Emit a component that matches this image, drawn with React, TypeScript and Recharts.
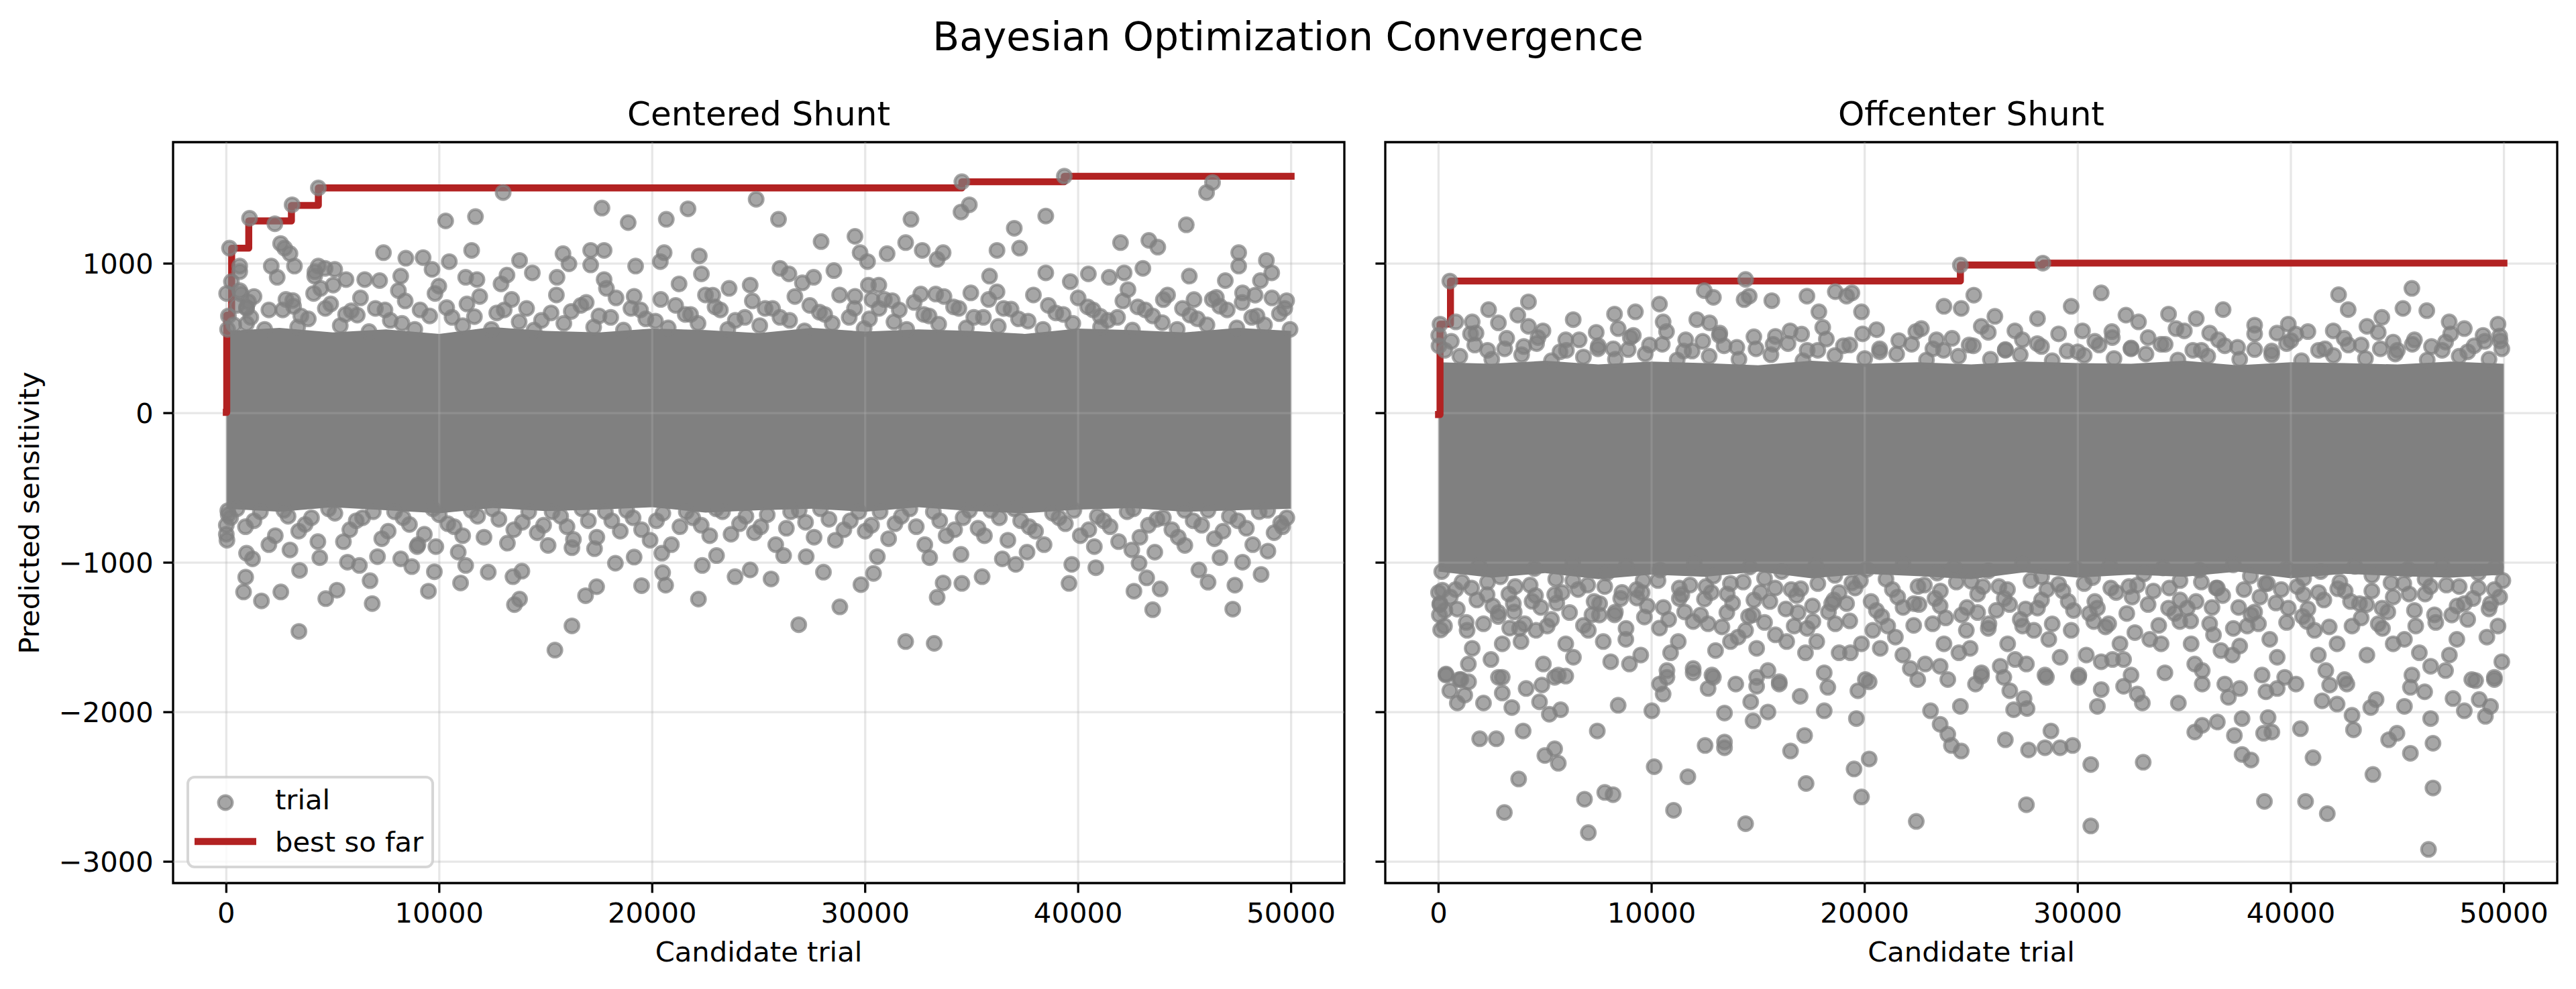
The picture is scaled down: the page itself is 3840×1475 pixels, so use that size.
import React from 'react';
import {
  ComposedChart,
  XAxis,
  YAxis,
  Scatter,
  Line,
  Area,
  ReferenceLine,
  ReferenceArea,
  Legend,
} from 'recharts';

const FONT = '"DejaVu Sans", sans-serif';
const GRAY = '#808080';
const RED = '#b22222';

const figureTitle = 'Bayesian Optimization Convergence';
const panelTitles = ['Centered Shunt', 'Offcenter Shunt'];
const xLabel = 'Candidate trial';
const yLabel = 'Predicted sensitivity';
const legendLabels = ['trial', 'best so far'];

const xTicks = [0, 10000, 20000, 30000, 40000, 50000];
const yTicks = [-3000, -2000, -1000, 0, 1000];
const xDomain: [number, number] = [-2500, 52500];
const yDomain: [number, number] = [-3143, 1812];

// dense core of the cloud, read as an envelope every 2500 trials
const bandTrials = [0, 2500, 5000, 7500, 10000, 12500, 15000, 17500, 20000, 22500, 25000, 27500, 30000, 32500, 35000, 37500, 40000, 42500, 45000, 47500, 50000];
const centeredBandLow = [-640, -660, -630, -650, -670, -635, -655, -645, -630, -665, -650, -640, -660, -630, -655, -670, -645, -635, -660, -650, -640];
const centeredBandHigh = [550, 570, 540, 560, 530, 575, 550, 540, 565, 555, 535, 570, 545, 560, 550, 530, 565, 555, 540, 570, 550];
const offcenterBandLow = [-1060, -1100, -1070, -1110, -1080, -1095, -1060, -1105, -1075, -1090, -1110, -1065, -1100, -1080, -1095, -1060, -1105, -1075, -1090, -1100, -1080];
const offcenterBandHigh = [340, 330, 350, 325, 345, 335, 320, 350, 330, 340, 325, 345, 335, 330, 350, 320, 340, 335, 325, 345, 330];

// best so far (step after each improvement)
const centeredBestTrial = [0, 20, 250, 1054, 3057, 4322, 34540, 39350, 49999];
const centeredBestValue = [5, 655, 1103, 1285, 1389, 1506, 1547, 1584, 1584];
const offcenterBestTrial = [0, 70, 560, 24490, 28360, 49999];
const offcenterBestValue = [-10, 595, 883, 990, 1003, 1003];

// individually visible trials: [trial, sensitivity]
const centeredHigh: [number, number][] = [
  [4322, 1506], [13000, 1475], [24880, 1430], [34540, 1547], [34890, 1393], [34500, 1345], [39350, 1584], [46310, 1542],
  [46030, 1475], [17640, 1371], [18870, 1274], [20660, 1296], [21680, 1366], [10300, 1285], [11700, 1314], [25930, 1296],
  [32150, 1296], [38480, 1318], [37000, 1236], [45080, 1259], [27930, 1147], [29520, 1182], [31900, 1140], [32680, 1088],
  [33660, 1073], [33380, 1028], [31030, 1066], [29760, 1073], [30110, 1013], [36190, 1088], [37250, 1103], [41990, 1140],
  [43320, 1155], [43740, 1110], [47540, 1073], [48840, 1021], [49090, 938], [47540, 983], [7380, 1073], [8430, 1036],
  [9240, 1040], [11520, 1088], [13770, 1021], [15810, 1066], [17110, 1088], [17740, 1088], [16090, 998], [20560, 1073],
  [20380, 1013], [22210, 1051], [19220, 983], [17110, 991], [10470, 1013], [9660, 961], [2740, 1103], [2990, 1066],
  [2110, 983], [1090, 1303], [2280, 1266], [3090, 1393], [630, 946], [4640, 968], [5090, 961], [4150, 916],
  [2390, 908], [26000, 968], [26420, 931], [27580, 908], [28530, 953], [27050, 871], [35840, 916], [38480, 938],
  [40480, 931], [41460, 908], [42160, 938], [43040, 968], [45220, 916], [46910, 886], [48560, 886], [39630, 879],
  [13180, 923], [14370, 938], [15530, 908], [11240, 908], [11770, 893], [12900, 864], [8190, 916], [6500, 893],
  [7200, 886], [5620, 893], [4430, 834], [5020, 856], [8080, 819], [9980, 849], [17740, 893], [17850, 834],
  [19150, 781], [21260, 864], [22310, 931], [23610, 834], [24600, 856], [22840, 789], [30150, 856], [30640, 856],
  [32610, 796], [33310, 796], [34960, 804], [36190, 811], [42340, 826], [44000, 759], [45440, 759], [46490, 774],
  [47720, 804], [48310, 789], [49790, 752], [3160, 714], [950, 707], [5870, 684], [700, 796], [29520, 781],
  [30320, 759], [31270, 752], [41040, 647], [150, 1103], [630, 983], [240, 879], [630, 819], [1040, 744],
  [950, 700], [100, 650], [950, 598], [3120, 753], [2550, 1134], [3200, 983], [4320, 983], [4160, 945],
  [60, 560], [15, 800],
];

const centeredHighFringe: [number, number][] = [
  [350, 590], [1150, 640], [1800, 560], [2650, 690], [3350, 575], [3850, 630], [4650, 700], [5350, 585],
  [6150, 655], [6700, 545], [7450, 690], [8250, 600], [8850, 560], [9550, 650], [10350, 705], [11100, 585],
  [11650, 645], [12450, 560], [13050, 690], [13750, 610], [14450, 555], [15250, 670], [15850, 600], [16650, 720],
  [17250, 575], [18050, 640], [18650, 555], [19450, 690], [20150, 615], [20750, 570], [21550, 660], [22150, 600],
  [22950, 710], [23550, 560], [24350, 640], [25050, 585], [25650, 700], [26450, 620], [27150, 550], [27850, 675],
  [28450, 600], [29250, 640], [29950, 565], [30650, 700], [31350, 610], [31950, 560], [32750, 660], [33450, 595],
  [34150, 710], [34750, 570], [35550, 640], [36250, 580], [36850, 695], [37650, 615], [38350, 560], [38950, 670],
  [39750, 600], [40450, 710], [41050, 575], [41850, 640], [42550, 555], [43150, 690], [43950, 605], [44650, 560],
  [45250, 655], [46050, 590], [46650, 715], [47450, 570], [48150, 640], [48750, 590], [49450, 665], [49950, 560],
  [500, 720], [1300, 780], [2000, 690], [2800, 760], [3500, 650], [4100, 800], [4900, 730], [5600, 660],
  [6300, 770], [7000, 700], [7700, 620], [8400, 750], [9100, 690], [9800, 800], [10600, 640], [11300, 730],
  [11900, 780], [12700, 670], [13400, 760], [14100, 700], [14800, 620], [15500, 790], [16200, 680], [16900, 740],
  [17500, 650], [18300, 770], [19000, 700], [19700, 630], [20400, 760], [21100, 720], [21800, 660], [22500, 790],
  [23200, 690], [23900, 620], [24700, 750], [25300, 700], [26000, 640], [26700, 780], [27400, 720], [28100, 660],
  [28800, 790], [29500, 700], [30200, 630], [30900, 760], [31600, 690], [32300, 740], [33000, 650], [33700, 780],
  [34400, 700], [35100, 640], [35800, 760], [36500, 700], [37200, 630], [37900, 790], [38600, 720], [39300, 660],
  [40000, 770], [40700, 690], [41400, 620], [42100, 750], [42800, 710], [43500, 650], [44200, 790], [44900, 700],
  [45600, 630], [46300, 760], [47000, 690], [47700, 740], [48400, 650], [49100, 770], [49700, 700],
];

const centeredLow: [number, number][] = [
  [3410, -1460], [15430, -1585], [16230, -1423], [26880, -1415], [28810, -1296], [31900, -1528], [33240, -1540], [43500, -1315],
  [47260, -1311], [33380, -1232], [22170, -1244], [13530, -1281], [13770, -1244], [16870, -1221], [17390, -1161], [6850, -1274],
  [4670, -1241], [5200, -1184], [2560, -1196], [1650, -1256], [810, -1196], [910, -1097], [3440, -1052], [6750, -1121],
  [9490, -1191], [11000, -1136], [9770, -1061], [13460, -1094], [13880, -1057], [19500, -1154], [20630, -1151], [20490, -1067],
  [25580, -1109], [29800, -1147], [30390, -1072], [33660, -1136], [34540, -1139], [35490, -1094], [39570, -1139], [42620, -1191],
  [43850, -1176], [46100, -1131], [47360, -1151], [48590, -1079], [43220, -1102], [45670, -1049], [37070, -1012], [36440, -975],
  [37600, -930], [28040, -1064], [23890, -1094], [24600, -1049], [22350, -1019], [18270, -1004], [19150, -963], [12300, -1064],
  [11240, -1019], [8710, -1027], [8190, -975], [6250, -1019], [5690, -997], [4390, -967], [1230, -975], [950, -937],
  [39700, -1012], [40830, -1034], [42860, -1004], [47720, -997], [46660, -967], [48910, -923], [33030, -967], [34500, -945],
  [30570, -960], [27230, -960], [26170, -953], [23020, -953], [20450, -937], [17290, -907], [16230, -900], [15110, -885],
  [10890, -930], [7100, -960], [9840, -893], [8960, -893], [2990, -915], [0, -810], [70, -653], [40760, -893],
  [42520, -915], [45010, -885], [43600, -930], [49510, -735], [0, -750], [30, -850], [90, -680],
];

const centeredLowFringe: [number, number][] = [
  [200, -700], [900, -760], [1600, -660], [2300, -820], [2900, -690], [3700, -745], [4300, -860], [5100, -670],
  [5800, -780], [6400, -700], [7300, -840], [7900, -660], [8600, -745], [9300, -810], [10000, -680], [10700, -760],
  [11500, -650], [12100, -830], [12800, -710], [13500, -780], [14200, -660], [14900, -750], [15700, -690], [16300, -845],
  [17000, -720], [17800, -660], [18500, -790], [19100, -700], [19900, -850], [20500, -670], [21300, -760], [21900, -700],
  [22700, -820], [23300, -660], [24100, -740], [24800, -800], [25400, -680], [26300, -770], [26900, -650], [27600, -830],
  [28300, -710], [29000, -780], [29700, -660], [30300, -750], [31100, -840], [31700, -690], [32400, -760], [33200, -660],
  [33800, -820], [34600, -700], [35300, -770], [35900, -650], [36700, -850], [37300, -720], [38000, -790], [38800, -670],
  [39400, -740], [40100, -820], [40900, -690], [41500, -760], [42300, -660], [42900, -830], [43700, -710], [44400, -780],
  [45000, -650], [45800, -750], [46400, -840], [47100, -690], [47900, -770], [48500, -660], [49200, -800], [49800, -700],
  [500, -640], [1300, -720], [2000, -880], [2700, -650], [3400, -790], [4000, -700], [4800, -640], [5500, -860],
  [6100, -720], [6900, -660], [7600, -790], [8300, -700], [9000, -880], [9700, -640], [10400, -740], [11100, -820],
  [11800, -690], [12500, -640], [13200, -870], [13900, -730], [14600, -800], [15300, -660], [16000, -760], [16700, -640],
  [17400, -830], [18100, -720], [18800, -650], [19500, -780], [20200, -720], [20900, -880], [21600, -660], [22300, -750],
  [23000, -640], [23700, -810], [24400, -690], [25100, -760], [25800, -880], [26500, -660], [27200, -730], [27900, -640],
  [28600, -850], [29300, -720], [30000, -790], [30700, -660], [31400, -740], [32100, -640], [32800, -880], [33500, -720],
  [34200, -780], [34900, -650], [35600, -820], [36300, -700], [37000, -640], [37700, -760], [38400, -880], [39100, -700],
  [39800, -650], [40500, -780], [41200, -720], [41900, -860], [42600, -640], [43300, -750], [44000, -700], [44700, -830],
  [45400, -720], [46100, -650], [46800, -790], [47500, -720], [48200, -880], [48900, -650], [49600, -760],
];

const offcenterHigh: [number, number][] = [
  [530, 883], [14410, 894], [28360, 1003], [24490, 990], [12470, 819], [12900, 774], [14580, 782], [14340, 759],
  [15640, 752], [17290, 782], [18620, 812], [19150, 782], [19400, 804], [25120, 789], [31100, 804], [42240, 792],
  [45680, 834], [4220, 744], [10370, 729], [23720, 714], [29690, 714], [42690, 692], [45260, 700], [2350, 692],
  [3720, 655], [8260, 662], [9240, 677], [17850, 677], [19850, 677], [24530, 700], [32260, 655], [34260, 662],
  [36820, 692], [46380, 685], [6320, 625], [12120, 625], [12720, 603], [26110, 647], [28110, 632], [35560, 632],
  [44270, 640], [49720, 595], [47430, 610], [38300, 588], [39880, 595], [41990, 550], [4220, 580], [2810, 603],
  [1580, 610], [810, 610], [8430, 565], [10540, 610], [18030, 573], [22660, 565], [25470, 580], [32850, 610],
  [34610, 565], [43570, 580], [48140, 565], [49020, 520], [40230, 528], [36190, 535], [30220, 550], [27050, 550],
  [23370, 490], [17040, 528], [15810, 513], [13180, 520], [11600, 490], [9140, 520], [5970, 490], [4670, 505],
  [1760, 535], [49820, 483], [47260, 475], [44800, 475], [39350, 535], [31620, 505], [7480, 430], [20560, 558],
  [70, 595], [20, 450], [10, 520],
];

const offcenterHighFringe: [number, number][] = [
  [300, 420], [1000, 380], [1700, 455], [2500, 360], [3100, 430], [3900, 390], [4600, 465], [5300, 350],
  [6000, 420], [6800, 375], [7500, 450], [8300, 360], [8900, 425], [9700, 395], [10500, 460], [11200, 355],
  [11900, 415], [12700, 380], [13400, 450], [14100, 360], [14900, 430], [15600, 390], [16400, 465], [17100, 350],
  [17800, 420], [18600, 385], [19300, 455], [20000, 365], [20700, 430], [21500, 395], [22200, 460], [22900, 355],
  [23700, 420], [24400, 380], [25100, 450], [25900, 360], [26600, 425], [27300, 390], [28100, 465], [28800, 350],
  [29500, 415], [30300, 385], [31000, 455], [31700, 365], [32500, 430], [33200, 395], [33900, 460], [34700, 355],
  [35400, 420], [36100, 380], [36900, 450], [37600, 360], [38300, 425], [39100, 390], [39800, 465], [40500, 350],
  [41300, 420], [42000, 385], [42700, 455], [43500, 365], [44200, 430], [44900, 395], [45700, 460], [46400, 355],
  [47100, 420], [47900, 380], [48600, 450], [49300, 360], [49900, 430],
  [600, 480], [1500, 530], [2300, 420], [3200, 500], [4000, 445], [4900, 550], [5700, 410], [6600, 490],
  [7400, 540], [8200, 430], [9000, 505], [9900, 455], [10700, 545], [11500, 415], [12400, 480], [13200, 535],
  [14000, 440], [14800, 510], [15700, 460], [16500, 550], [17300, 420], [18200, 495], [19000, 450], [19900, 530],
  [20700, 410], [21600, 485], [22400, 545], [23200, 430], [24100, 500], [24900, 455], [25800, 540], [26600, 420],
  [27400, 490], [28300, 445], [29100, 530], [30000, 410], [30800, 480], [31600, 545], [32500, 435], [33300, 505],
  [34100, 460], [35000, 550], [35800, 420], [36600, 490], [37500, 440], [38300, 530], [39100, 415], [40000, 485],
  [40800, 545], [41600, 430], [42500, 500], [43300, 455], [44100, 540], [45000, 420], [45800, 490], [46600, 445],
  [47500, 530], [48300, 410], [49100, 480], [49800, 515],
];

const offcenterLowEdge: [number, number][] = [
  [150, -1060], [1100, -1130], [1900, -1020], [2900, -1095], [3600, -1160], [4500, -1040], [5500, -1110], [6300, -1010],
  [7000, -1150], [7900, -1070], [8800, -1025], [9600, -1120], [10400, -1050], [11300, -1170], [12000, -1010], [12900, -1090],
  [13700, -1140], [14600, -1030], [15300, -1105], [16100, -1060], [17000, -1175], [17700, -1020], [18600, -1085], [19400, -1135],
  [20100, -1045], [21000, -1110], [21800, -1015], [22500, -1160], [23400, -1070], [24200, -1030], [25000, -1125], [25800, -1055],
  [26700, -1180], [27400, -1010], [28300, -1095], [29100, -1145], [29900, -1040], [30700, -1100], [31500, -1020], [32400, -1160],
  [33100, -1075], [34000, -1035], [34800, -1120], [35700, -1050], [36500, -1170], [37300, -1015], [38100, -1090], [38900, -1140],
  [39800, -1040], [40600, -1105], [41400, -1060], [42200, -1175], [43000, -1025], [43800, -1085], [44700, -1135], [45500, -1045],
  [46300, -1110], [47100, -1020], [47900, -1160], [48800, -1070], [49600, -1030], [49950, -1120],
  [0, -1200], [40, -1350], [100, -1450], [60, -1280],
];

const offcenterLowDense: [number, number][] = [
  [300, -1320], [800, -1180], [1300, -1400], [1800, -1250], [2300, -1130], [2800, -1360], [3300, -1210], [3800, -1440],
  [4300, -1150], [4800, -1300], [5300, -1380], [5800, -1200], [6300, -1120], [6800, -1420], [7300, -1260], [7800, -1160],
  [8300, -1330], [8800, -1440], [9300, -1180], [9800, -1290], [10300, -1120], [10800, -1380], [11300, -1240], [11800, -1150],
  [12300, -1350], [12800, -1200], [13300, -1430], [13800, -1270], [14300, -1130], [14800, -1250], [15300, -1400], [15800, -1170],
  [16300, -1310], [16800, -1220], [17300, -1440], [17800, -1140], [18300, -1330], [18800, -1200], [19300, -1390], [19800, -1120],
  [20300, -1260], [20800, -1360], [21300, -1180], [21800, -1300], [22300, -1420], [22800, -1150], [23300, -1240], [23800, -1370],
  [24300, -1130], [24800, -1300], [25300, -1210], [25800, -1440], [26300, -1160], [26800, -1280], [27300, -1380], [27800, -1120],
  [28300, -1250], [28800, -1410], [29300, -1190], [29800, -1320], [30300, -1140], [30800, -1260], [31300, -1430], [31800, -1200],
  [32300, -1340], [32800, -1150], [33300, -1280], [33800, -1420], [34300, -1170], [34800, -1250], [35300, -1390], [35800, -1130],
  [36300, -1300], [36800, -1220], [37300, -1440], [37800, -1180], [38300, -1330], [38800, -1140], [39300, -1270], [39800, -1400],
  [40300, -1160], [40800, -1310], [41300, -1200], [41800, -1430], [42300, -1130], [42800, -1260], [43300, -1370], [43800, -1190],
  [44300, -1440], [44800, -1230], [45300, -1140], [45800, -1320], [46300, -1210], [46800, -1400], [47300, -1150], [47800, -1290],
  [48300, -1380], [48800, -1170], [49300, -1310], [49800, -1230],
  [550, -1230], [1550, -1170], [2550, -1290], [3550, -1330], [4550, -1220], [5550, -1270], [6550, -1180], [7550, -1350],
  [8550, -1240], [9550, -1200], [10550, -1300], [11550, -1330], [12550, -1160], [13550, -1210], [14550, -1360], [15550, -1260],
  [16550, -1180], [17550, -1290], [18550, -1250], [19550, -1170], [20550, -1320], [21550, -1230], [22550, -1280], [23550, -1190],
  [24550, -1350], [25550, -1160], [26550, -1240], [27550, -1310], [28550, -1180], [29550, -1260], [30550, -1340], [31550, -1170],
  [32550, -1230], [33550, -1190], [34550, -1340], [35550, -1260], [36550, -1170], [37550, -1300], [38550, -1230], [39550, -1180],
  [40550, -1360], [41550, -1250], [42550, -1190], [43550, -1280], [44550, -1330], [45550, -1210], [46550, -1160], [47550, -1350],
  [48550, -1240], [49550, -1180],
];

const offcenterLowMid: [number, number][] = [
  [180, -1184], [70, -1274], [280, -1424], [880, -1311], [1340, -1453], [1580, -1573], [1400, -1678], [350, -1745], [1050, -1782],
  [2110, -1409], [2810, -1334], [2460, -1648], [2990, -1543], [2810, -1767], [2280, -1214], [3340, -1438],
  [4040, -1409], [3870, -1528], [4570, -1453], [4920, -1678], [4390, -1259], [3510, -1274],
  [5100, -1424], [5970, -1543], [6330, -1633], [5620, -1752], [6150, -1334], [5450, -1214],
  [7030, -1453], [7730, -1528], [8080, -1663], [7560, -1274], [8260, -1349], [7200, -1349],
  [8790, -1513], [8960, -1678], [9490, -1618], [9660, -1364], [9310, -1237], [8610, -1199],
  [10370, -1438], [10720, -1722], [11420, -1214], [11250, -1528], [11950, -1394], [11950, -1708], [10890, -1603],
  [12650, -1409], [13000, -1588], [13700, -1528], [12830, -1752], [12480, -1244], [13530, -1334],
  [14060, -1498], [14410, -1453], [14930, -1573], [15460, -1722], [14930, -1767], [14760, -1349], [15110, -1199],
  [15810, -1483], [16340, -1528], [16690, -1424], [16870, -1334], [17220, -1603], [15990, -1797],
  [17750, -1528], [18100, -1737], [18620, -1409], [18800, -1603], [18450, -1274], [17570, -1394],
  [19330, -1603], [19850, -1543], [20030, -1782], [20380, -1453], [20730, -1573], [19150, -1274],
  [21440, -1498], [21790, -1618], [22140, -1708], [22310, -1274], [21080, -1424], [22490, -1782],
  [22840, -1678], [23540, -1693], [23720, -1543], [23900, -1782], [23190, -1409], [23540, -1289],
  [24420, -1603], [24950, -1573], [25480, -1737], [25830, -1409], [25300, -1334], [24770, -1453],
  [26360, -1693], [26710, -1543], [27060, -1648], [27590, -1678], [26180, -1319], [27410, -1424],
  [27940, -1453], [28460, -1752], [29170, -1633], [28640, -1513], [28110, -1304],
  [29690, -1453], [30050, -1752], [30400, -1618], [30750, -1394], [31100, -1663], [30920, -1304],
  [31630, -1648], [32150, -1648], [32500, -1752], [31980, -1543], [31450, -1409], [32680, -1468],
  [33380, -1513], [33910, -1543], [34090, -1737], [34260, -1304], [34790, -1394],
  [35320, -1543], [35490, -1678], [35840, -1722], [36190, -1409], [36370, -1483], [35140, -1304],
  [36720, -1588], [37250, -1618], [37600, -1558], [38130, -1349], [37950, -1424],
  [38650, -1752], [39010, -1513], [39360, -1633], [39710, -1767], [38480, -1409], [39880, -1304],
  [40760, -1394], [41290, -1618], [41640, -1722], [41110, -1453], [40590, -1214],
  [42170, -1543], [42870, -1424], [43570, -1618], [43220, -1274], [42520, -1782],
  [44100, -1409], [44800, -1543], [45330, -1513], [44280, -1304],
  [45860, -1424], [46030, -1603], [46560, -1693], [46740, -1349], [45680, -1752],
  [47440, -1618], [47790, -1513], [48490, -1782], [48140, -1274], [47260, -1722],
  [49200, -1498], [49550, -1767], [49900, -1663], [49720, -1424], [49370, -1274],
];

const offcenterLowFar: [number, number][] = [
  [350, -1752], [530, -1857], [880, -1939], [1230, -1886], [1410, -1797], [980, -1782], [2110, -1939], [2990, -1767],
  [2990, -1872], [3440, -1969], [4110, -1842], [4740, -1931], [4850, -1819], [5200, -2014], [5450, -1767], [5730, -1984],
  [5970, -1759], [8430, -1954], [10010, -1991], [10370, -1812], [10540, -1879], [10720, -1767], [11950, -1737], [12650, -1842],
  [12900, -1767], [13420, -2006], [13950, -1812], [14650, -1931], [14760, -2058], [14930, -1827], [15460, -1999], [15990, -1812],
  [16970, -1894], [18100, -1991], [18270, -1834], [19680, -1857], [20210, -1797], [19610, -2043], [23090, -1991], [23540, -2081],
  [23900, -2148], [24490, -1961], [24070, -2223], [24530, -2260], [25200, -1812], [25480, -1759], [26530, -1767], [26810, -1857],
  [27480, -1909], [26990, -1984], [27620, -1976], [28530, -1767], [30040, -1767], [30920, -1961], [31100, -1849], [32150, -1827],
  [32790, -1879], [33030, -1939], [34720, -1939], [35840, -1812], [36550, -2066], [36900, -1812], [37070, -1901], [37600, -1842],
  [37710, -2043], [38830, -1864], [38930, -2036], [39360, -1842], [40240, -1812], [41470, -1924], [41820, -1819], [42170, -1946],
  [42630, -1812], [42870, -2021], [43750, -1969], [44000, -1916], [45330, -1961], [45610, -1834], [46280, -1864], [46560, -2043],
  [47610, -1909], [48140, -1991], [48670, -1789], [48840, -1916], [49370, -1961], [49550, -1782], [49130, -2028],
  [1930, -2178], [2710, -2178], [3970, -2126], [4990, -2290], [5450, -2245], [5620, -2342], [7450, -2126], [3760, -2447],
  [6850, -2582], [7800, -2537], [8190, -2552], [3090, -2671], [7030, -2806], [10120, -2365], [11700, -2432], [11030, -2656],
  [12510, -2223], [13420, -2200], [13420, -2238], [14410, -2746], [16520, -2260], [17180, -2156], [17250, -2477], [19500, -2380],
  [20210, -2313], [19850, -2567], [22420, -2731], [26600, -2185], [27690, -2253], [28460, -2238], [29170, -2238], [29760, -2223],
  [28740, -2126], [27590, -2619], [30610, -2350], [30610, -2761], [33070, -2335], [35490, -2133], [35840, -2088], [37350, -2156],
  [37710, -2283], [38130, -2320], [38720, -2141], [39110, -2133], [38760, -2597], [40450, -2111], [41040, -2305], [40690, -2597],
  [41710, -2679], [42940, -2118], [43850, -2417], [44590, -2185], [44980, -2141], [45610, -2275], [46670, -2208], [46670, -2507],
  [46460, -2918],
];

const toPoints = (pairs: [number, number][]) => pairs.map(([x, y]) => ({ x, y }));
const toBand = (low: number[], high: number[]) => bandTrials.map((x, i) => ({ x, band: [low[i], high[i]] }));
const toBest = (trials: number[], values: number[]) => trials.map((x, i) => ({ x, best: values[i] }));

const panels = [
  {
    title: panelTitles[0],
    trials: toPoints([...centeredHighFringe, ...centeredLowFringe, ...centeredHigh, ...centeredLow]),
    band: toBand(centeredBandLow, centeredBandHigh),
    best: toBest(centeredBestTrial, centeredBestValue),
  },
  {
    title: panelTitles[1],
    trials: toPoints([
      ...offcenterHighFringe, ...offcenterLowEdge, ...offcenterLowDense,
      ...offcenterHigh, ...offcenterLowMid, ...offcenterLowFar,
    ]),
    band: toBand(offcenterBandLow, offcenterBandHigh),
    best: toBest(offcenterBestTrial, offcenterBestValue),
  },
];

const fmtY = (v: number) => (v < 0 ? `\u2212${Math.abs(v)}` : `${v}`);

const TrialDot = (props: any) => (
  <circle
    cx={props.cx}
    cy={props.cy}
    r={10.4}
    fill={GRAY}
    fillOpacity={0.7}
    stroke={GRAY}
    strokeOpacity={0.7}
    strokeWidth={4.2}
  />
);

const LegendBox = () => (
  <svg width={369} height={138} style={{ display: 'block' }}>
    <rect x={2} y={2} width={365} height={134} rx={10} fill="#fff" fillOpacity={0.8} stroke="#cccccc" strokeOpacity={0.8} strokeWidth={4} />
    <circle cx={58} cy={40} r={10.4} fill={GRAY} fillOpacity={0.7} stroke={GRAY} strokeOpacity={0.7} strokeWidth={4.2} />
    <text x={132} y={50} fontSize={41.7} fontFamily={FONT} fill="#000">{legendLabels[0]}</text>
    <line x1={12} x2={104} y1={98} y2={98} stroke={RED} strokeWidth={10.4} />
    <text x={132} y={113} fontSize={41.7} fontFamily={FONT} fill="#000">{legendLabels[1]}</text>
  </svg>
);

const tickStyle = { fontSize: 41.7, fill: '#000', fontFamily: FONT };
const tickLineStyle = { stroke: '#000', strokeWidth: 3.3 };

type PanelProps = {
  panel: (typeof panels)[number];
  left: number;
  width: number;
  margin: { top: number; right: number; bottom: number; left: number };
  yWidth: number;
  showYLabels: boolean;
  showLegend: boolean;
};

const Panel = ({ panel, left, width, margin, yWidth, showYLabels, showLegend }: PanelProps) => (
  <div style={{ position: 'absolute', left, top: 0 }}>
    <ComposedChart width={width} height={1475} margin={margin}>
      <XAxis
        type="number"
        dataKey="x"
        domain={xDomain}
        ticks={xTicks}
        interval={0}
        allowDataOverflow
        height={100}
        axisLine={false}
        tickLine={tickLineStyle}
        tickSize={14.6}
        tickMargin={15}
        tick={tickStyle}
      />
      <YAxis
        type="number"
        domain={yDomain}
        ticks={yTicks}
        interval={0}
        allowDataOverflow
        width={yWidth}
        axisLine={false}
        tickLine={tickLineStyle}
        tickSize={14.6}
        tickMargin={14.6}
        tick={tickStyle}
        tickFormatter={showYLabels ? fmtY : () => ''}
      />
      <Area
        data={panel.band}
        dataKey="band"
        type="linear"
        stroke="none"
        fill={GRAY}
        fillOpacity={1}
        dot={false}
        activeDot={false}
        isAnimationActive={false}
      />
      <Scatter
        name={legendLabels[0]}
        data={panel.trials}
        dataKey="y"
        shape={TrialDot}
        isAnimationActive={false}
      />
      {xTicks.map((t) => (
        <ReferenceLine key={`gx${t}`} x={t} stroke="#b0b0b0" strokeOpacity={0.3} strokeWidth={3.3} />
      ))}
      {yTicks.map((t) => (
        <ReferenceLine key={`gy${t}`} y={t} stroke="#b0b0b0" strokeOpacity={0.3} strokeWidth={3.3} />
      ))}
      <Line
        name={legendLabels[1]}
        data={panel.best}
        dataKey="best"
        type="stepAfter"
        stroke={RED}
        strokeWidth={10.4}
        strokeLinecap="square"
        strokeLinejoin="round"
        dot={false}
        activeDot={false}
        isAnimationActive={false}
      />
      <ReferenceArea
        x1={xDomain[0]}
        x2={xDomain[1]}
        y1={yDomain[0]}
        y2={yDomain[1]}
        fill="none"
        fillOpacity={0}
        stroke="#000"
        strokeWidth={3.3}
        ifOverflow="visible"
      />
      {showLegend && (
        <Legend
          layout="vertical"
          align="center"
          verticalAlign="middle"
          wrapperStyle={{ left: 278, top: 1157, width: 369, height: 138 }}
          content={() => <LegendBox />}
        />
      )}
    </ComposedChart>
  </div>
);

export default function App() {
  return (
    <div style={{ position: 'absolute', left: 0, top: 0, width: 3840, height: 1475, background: '#fff', overflow: 'hidden' }}>
      <Panel
        panel={panels[0]}
        left={0}
        width={2030}
        margin={{ top: 212, right: 26, bottom: 58, left: 58 }}
        yWidth={200}
        showYLabels
        showLegend
      />
      <Panel
        panel={panels[1]}
        left={2030}
        width={1810}
        margin={{ top: 212, right: 28, bottom: 58, left: 5 }}
        yWidth={30}
        showYLabels={false}
        showLegend={false}
      />
      <svg width={3840} height={1475} style={{ position: 'absolute', left: 0, top: 0, pointerEvents: 'none' }}>
        <text x={1920} y={75} textAnchor="middle" fontSize={58.3} fontFamily={FONT} fill="#000">{figureTitle}</text>
        <text x={1131} y={187} textAnchor="middle" fontSize={50} fontFamily={FONT} fill="#000">{panels[0].title}</text>
        <text x={2938.5} y={187} textAnchor="middle" fontSize={50} fontFamily={FONT} fill="#000">{panels[1].title}</text>
        <text x={1131} y={1434} textAnchor="middle" fontSize={41.7} fontFamily={FONT} fill="#000">{xLabel}</text>
        <text x={2938.5} y={1434} textAnchor="middle" fontSize={41.7} fontFamily={FONT} fill="#000">{xLabel}</text>
        <text x={58} y={765} textAnchor="middle" fontSize={41.7} fontFamily={FONT} fill="#000" transform="rotate(-90 58 765)">{yLabel}</text>
      </svg>
    </div>
  );
}
